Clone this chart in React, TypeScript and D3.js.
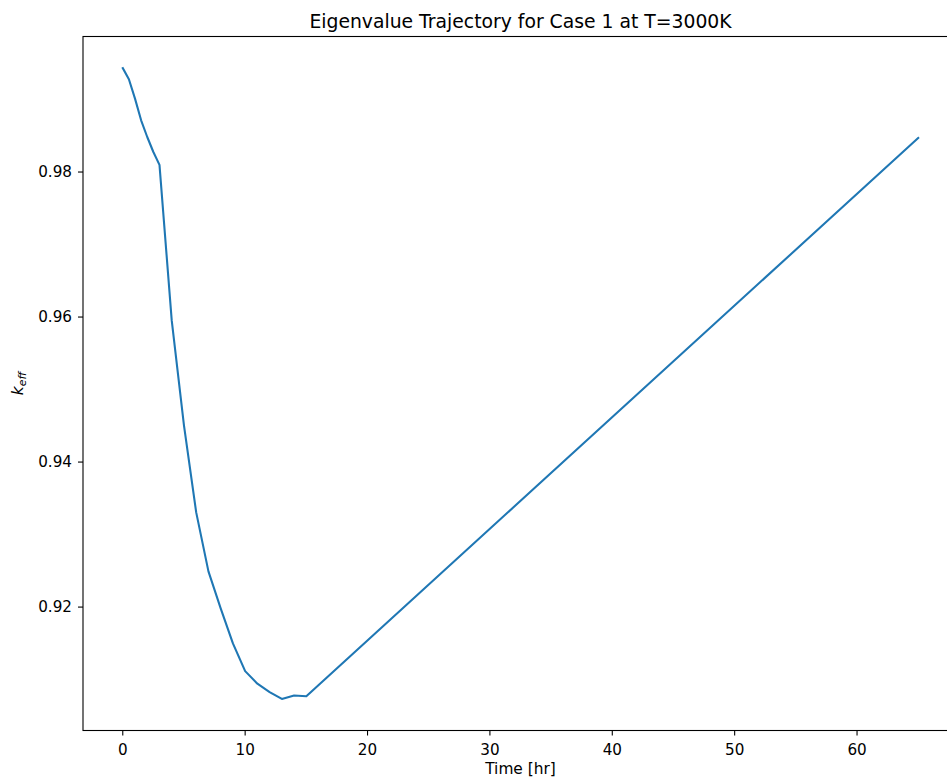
import React from "react";
import * as d3 from "d3";

// Burnup time in hours and the multiplication factor at each step
const timeHr = [0, 0.5, 1, 1.5, 2, 2.5, 3, 4, 5, 6, 7, 8, 9, 10, 11, 12, 13, 14, 15, 65];
const keff = [
  0.99434, 0.99279, 0.99012, 0.98713, 0.98483, 0.98276, 0.98098,
  0.95954, 0.94506, 0.93306, 0.92492, 0.91982, 0.91499, 0.91117,
  0.90943, 0.90828, 0.90733, 0.9078, 0.90771, 0.98469,
];
const xTicks = [0, 10, 20, 30, 40, 50, 60];
const yTicks = [0.92, 0.94, 0.96, 0.98];

const W = 947;
const H = 778;
const left = 83;
const right = 958;
const top = 36.5;
const bottom = 730.5;
const font = "DejaVu Sans, sans-serif";
const tickSize = 15.2;
const labelSize = 15.4;
const titleSize = 18.8;

export default function App() {
  const xMin = d3.min(timeHr)!;
  const xMax = d3.max(timeHr)!;
  const xPad = (xMax - xMin) * 0.05;
  const yMin = d3.min(keff)!;
  const yMax = d3.max(keff)!;
  const yPad = (yMax - yMin) * 0.05;

  const x = d3.scaleLinear().domain([xMin - xPad, xMax + xPad]).range([left, right]);
  const y = d3.scaleLinear().domain([yMin - yPad, yMax + yPad]).range([bottom, top]);

  const line = d3
    .line<number>()
    .x((_, i) => x(timeHr[i]))
    .y((d) => y(d));

  const cx = (left + right) / 2;
  const cy = (top + bottom) / 2;

  return (
    <svg
      width={W}
      height={H}
      style={{ position: "absolute", left: 0, top: 0, background: "#fff" }}
      fontFamily={font}
    >
      <rect width={W} height={H} fill="#fff" />
      <path d={line(keff) ?? ""} fill="none" stroke="#1f77b4" strokeWidth={2.08} strokeLinejoin="round" strokeLinecap="square" />
      <rect
        x={left}
        y={top}
        width={right - left}
        height={bottom - top}
        fill="none"
        stroke="#000"
        strokeWidth={1.1}
      />
      {xTicks.map((t) => (
        <g key={t} transform={`translate(${x(t)},0)`}>
          <line y1={bottom} y2={bottom + 5} stroke="#000" strokeWidth={1.1} />
          <text y={bottom + 24} textAnchor="middle" fontSize={tickSize} fill="#000">
            {t}
          </text>
        </g>
      ))}
      {yTicks.map((t) => (
        <g key={t} transform={`translate(0,${y(t)})`}>
          <line x1={left} x2={left - 5} stroke="#000" strokeWidth={1.1} />
          <text x={left - 11} dy="0.35em" textAnchor="end" fontSize={tickSize} fill="#000">
            {t.toFixed(2)}
          </text>
        </g>
      ))}
      <text x={cx} y={top - 9} textAnchor="middle" fontSize={titleSize} fill="#000">
        Eigenvalue Trajectory for Case 1 at T=3000K
      </text>
      <text x={cx} y={774} textAnchor="middle" fontSize={labelSize} fill="#000">
        Time [hr]
      </text>
      <text
        transform={`translate(23,${cy}) rotate(-90)`}
        textAnchor="middle"
        fontSize={labelSize}
        fontStyle="italic"
        fill="#000"
      >
        k
        <tspan fontSize={10.8} dy={3}>eff</tspan>
      </text>
    </svg>
  );
}
